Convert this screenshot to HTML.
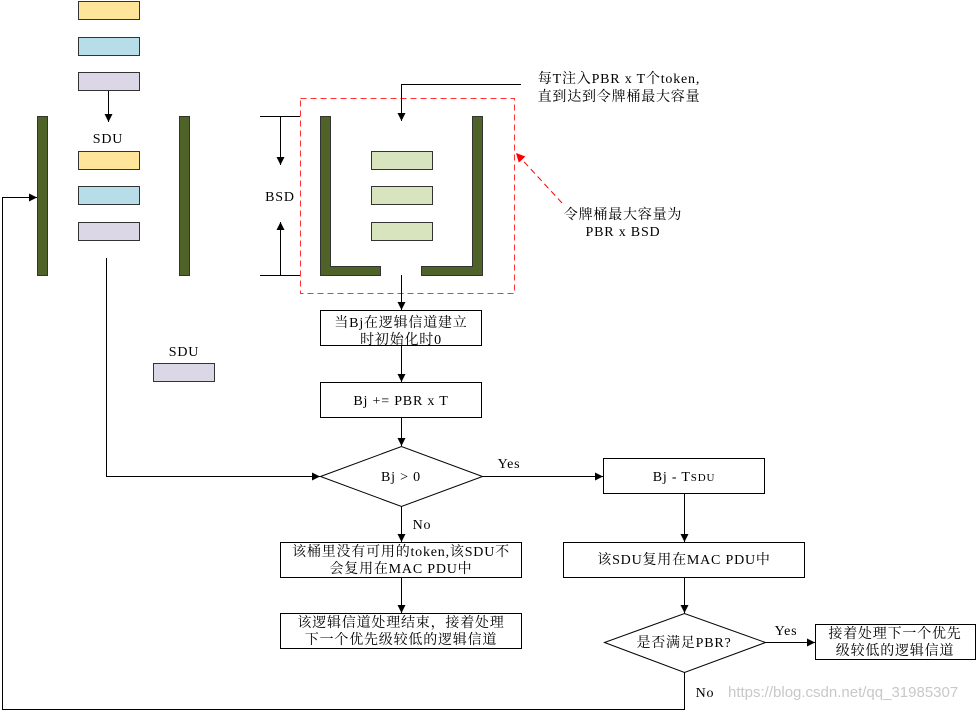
<!DOCTYPE html>
<html><head><meta charset="utf-8"><style>
html,body{margin:0;padding:0;background:#fff;}
svg{display:block;}
text{font-family:"Liberation Serif","Noto Serif CJK SC","Noto Sans CJK SC",serif;font-size:14px;letter-spacing:0.8px;fill:#000;}
</style></head><body>
<svg width="980" height="711" viewBox="0 0 980 711" xmlns="http://www.w3.org/2000/svg">
<defs>
<marker id="a" viewBox="0 0 10 10" refX="10" refY="5" markerWidth="8" markerHeight="8" orient="auto" markerUnits="userSpaceOnUse"><path d="M0,0L10,5L0,10z" fill="#000"/></marker>
<marker id="r" viewBox="0 0 10 10" refX="10" refY="5" markerWidth="9" markerHeight="9" orient="auto" markerUnits="userSpaceOnUse"><path d="M0,0L10,5L0,10z" fill="#f00"/></marker>
</defs>
<g stroke="#333" stroke-width="1">
<rect x="78.5" y="1.5" width="61" height="18" fill="#fee599"/>
<rect x="78.5" y="37.5" width="61" height="18" fill="#b7dde8"/>
<rect x="78.5" y="72.5" width="61" height="18" fill="#dcd7e6"/>
<rect x="78.5" y="151.5" width="61" height="18" fill="#fee599"/>
<rect x="78.5" y="186.5" width="61" height="18" fill="#b7dde8"/>
<rect x="78.5" y="222.5" width="61" height="18" fill="#dcd7e6"/>
<rect x="153.5" y="363.5" width="61" height="18" fill="#dcd7e6"/>
<rect x="371.5" y="151.5" width="61" height="18" fill="#d7e4bd"/>
<rect x="371.5" y="186.5" width="61" height="18" fill="#d7e4bd"/>
<rect x="371.5" y="222.5" width="61" height="18" fill="#d7e4bd"/>
<rect x="37.5" y="116.5" width="10" height="159" fill="#4f6228"/>
<rect x="179.5" y="116.5" width="10" height="159" fill="#4f6228"/>
<path d="M320.5,116.5h10v150h50v9h-60z" fill="#4f6228"/>
<path d="M482.5,116.5h-10v150h-51v9h61z" fill="#4f6228"/>
</g>
<rect x="300.5" y="98.5" width="214" height="195" fill="none" stroke="#f33" stroke-width="1" stroke-dasharray="6,4"/>
<line x1="562" y1="203" x2="516" y2="153" stroke="#f00" stroke-dasharray="6,4" marker-end="url(#r)"/>
<g stroke="#000" stroke-width="1" fill="none">
<line x1="108.5" y1="91" x2="108.5" y2="122" marker-end="url(#a)"/>
<line x1="260" y1="116.5" x2="300" y2="116.5"/>
<line x1="260" y1="275.5" x2="300" y2="275.5"/>
<line x1="280.5" y1="116" x2="280.5" y2="165" marker-end="url(#a)"/>
<line x1="280.5" y1="275" x2="280.5" y2="222" marker-end="url(#a)"/>
<polyline points="521,84.5 401.5,84.5 401.5,121" marker-end="url(#a)"/>
<line x1="401.5" y1="275" x2="401.5" y2="310" marker-end="url(#a)"/>
<rect x="320.5" y="310.5" width="161" height="35" fill="#fff"/>
<line x1="401.5" y1="346" x2="401.5" y2="382" marker-end="url(#a)"/>
<rect x="320.5" y="382.5" width="161" height="35" fill="#fff"/>
<line x1="401.5" y1="418" x2="401.5" y2="446" marker-end="url(#a)"/>
<polygon points="320.5,476.5 401.5,446.5 482.5,476.5 401.5,506.5" fill="#fff"/>
<polyline points="106.5,258 106.5,476.5 320,476.5" marker-end="url(#a)"/>
<line x1="482" y1="476.5" x2="603" y2="476.5" marker-end="url(#a)"/>
<rect x="603.5" y="458.5" width="161" height="35" fill="#fff"/>
<line x1="401.5" y1="506" x2="401.5" y2="542" marker-end="url(#a)"/>
<rect x="280.5" y="542.5" width="241" height="35" fill="#fff"/>
<line x1="401.5" y1="578" x2="401.5" y2="613" marker-end="url(#a)"/>
<rect x="280.5" y="613.5" width="241" height="35" fill="#fff"/>
<line x1="684.5" y1="494" x2="684.5" y2="542" marker-end="url(#a)"/>
<rect x="563.5" y="542.5" width="241" height="35" fill="#fff"/>
<line x1="684.5" y1="578" x2="684.5" y2="613" marker-end="url(#a)"/>
<polygon points="604.5,642.5 684.5,613.5 765.5,642.5 684.5,672.5" fill="#fff"/>
<line x1="765" y1="642.5" x2="815" y2="642.5" marker-end="url(#a)"/>
<rect x="815.5" y="624.5" width="160" height="35" fill="#fff"/>
<polyline points="684.5,672 684.5,709.5 2.5,709.5 2.5,197.5 37,197.5" marker-end="url(#a)"/>
</g>
<g text-anchor="middle">
<text x="108" y="143">SDU</text>
<text x="184" y="356">SDU</text>
<text x="280" y="201">BSD</text>
<text x="619" y="83">每T注入PBR x T个token,</text>
<text x="619" y="101">直到达到令牌桶最大容量</text>
<text x="623" y="219">令牌桶最大容量为</text>
<text x="623" y="236">PBR x BSD</text>
<text x="401" y="327">当Bj在逻辑信道建立</text>
<text x="401" y="344">时初始化时0</text>
<text x="401" y="405">Bj += PBR x T</text>
<text x="401" y="481">Bj &gt; 0</text>
<text x="509" y="468">Yes</text>
<text x="684" y="481">Bj - T<tspan font-size="11">SDU</tspan></text>
<text x="422" y="529">No</text>
<text x="401" y="556">该桶里没有可用的token,该SDU不</text>
<text x="401" y="573">会复用在MAC PDU中</text>
<text x="684" y="564">该SDU复用在MAC PDU中</text>
<text x="401" y="627">该逻辑信道处理结束，接着处理</text>
<text x="401" y="644">下一个优先级较低的逻辑信道</text>
<text x="684" y="647">是否满足PBR?</text>
<text x="786" y="635">Yes</text>
<text x="895" y="638">接着处理下一个优先</text>
<text x="895" y="655">级较低的逻辑信道</text>
<text x="705" y="697">No</text>
</g>
<text x="728" y="697" style="font-family:'Liberation Sans',sans-serif;font-size:15px;letter-spacing:0;fill:#c8c8c8">https://blog.csdn.net/qq_31985307</text>
</svg>
</body></html>
